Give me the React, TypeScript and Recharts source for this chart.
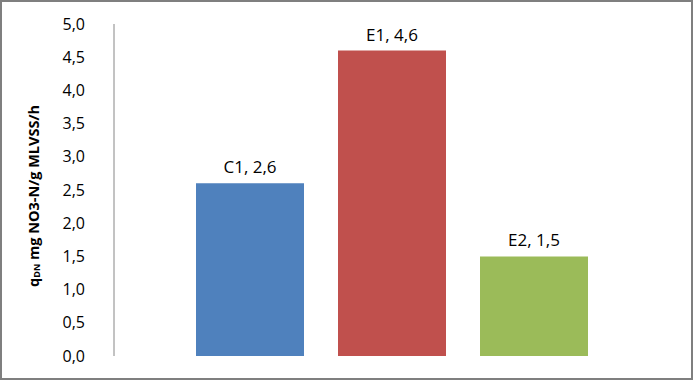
import React from 'react';
import { BarChart, Bar, XAxis, YAxis, LabelList } from 'recharts';

const SERIES = ['C1', 'E1', 'E2'];
const VALUES = [2.6, 4.6, 1.5];
const COLORS = ['#4f81bd', '#c0504d', '#9bbb59'];
const Y_TICKS = [0, 0.5, 1, 1.5, 2, 2.5, 3, 3.5, 4, 4.5, 5];

const FONT = "'Open Sans', 'Liberation Sans', sans-serif";

const row: Record<string, number | string> = { name: '' };
SERIES.forEach((s, i) => {
  row[s] = VALUES[i];
});
const data = [row];

const comma = (v: number) => v.toFixed(1).replace('.', ',');

const YLabel = () => (
  <text
    transform='translate(33, 196) rotate(-90)'
    textAnchor='middle'
    dominantBaseline='central'
    fontFamily={FONT}
    fontSize={14.5}
    fontWeight='bold'
    fill='#000'
  >
    q<tspan fontSize={9} dy={3}>DN</tspan>
    <tspan dy={-3}> mg NO3-N/g MLVSS/h</tspan>
  </text>
);

export default function App() {
  return (
    <div style={{ width: 693, height: 380, position: 'relative' }}>
      <style>{'body{margin:0}'}</style>
      <div
        style={{
          position: 'absolute',
          left: 0,
          top: 0,
          width: 689,
          height: 376,
          border: '2px solid #7f7f7f',
          background: '#fff',
        }}
      />
      <div style={{ position: 'absolute', left: 0, top: 0 }}>
        <BarChart
          width={693}
          height={380}
          data={data}
          margin={{ top: 24, right: 23, bottom: 24, left: 0 }}
          barGap={34}
        >
          <XAxis
            dataKey='name'
            height={0}
            tick={false}
            tickLine={false}
            axisLine={{ stroke: '#868686' }}
          />
          <YAxis
            width={114}
            domain={[0, 5]}
            ticks={Y_TICKS}
            interval={0}
            tickFormatter={comma}
            tickLine={false}
            tickSize={0}
            tickMargin={29}
            axisLine={{ stroke: '#868686' }}
            tick={{ fontFamily: FONT, fontSize: 16, fill: '#000' }}
            label={<YLabel />}
          />
          {SERIES.map((s, i) => (
            <Bar
              key={s}
              dataKey={s}
              fill={COLORS[i]}
              barSize={108}
              isAnimationActive={false}
            >
              <LabelList
                dataKey={s}
                position='top'
                offset={10}
                formatter={(v: any) => `${s}, ${comma(Number(v))}`}
                style={{ fontFamily: FONT, fontSize: 17, fill: '#000' }}
              />
            </Bar>
          ))}
        </BarChart>
      </div>
    </div>
  );
}
